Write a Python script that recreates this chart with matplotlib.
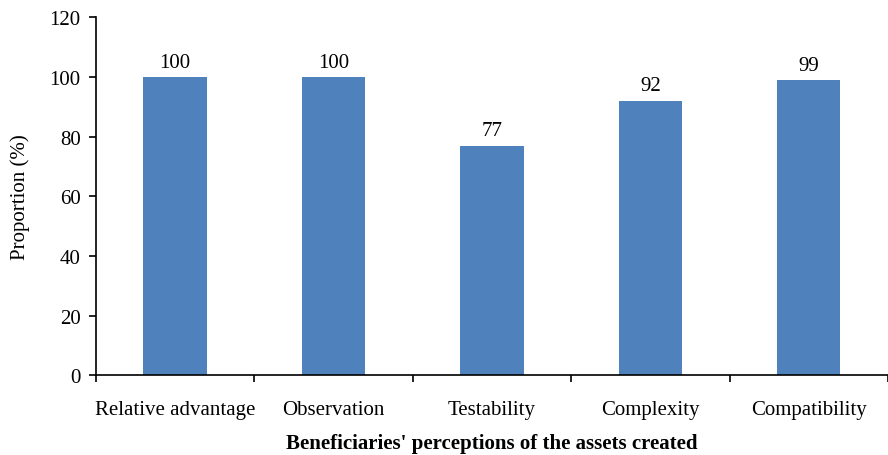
import matplotlib.pyplot as plt
import numpy as np

categories = ['Relative advantage', 'Observation', 'Testability', 'Complexity', 'Compatibility']
values = [100, 100, 77, 92, 99]
yticks = [0, 20, 40, 60, 80, 100, 120]

plt.rcParams['font.family'] = ['Liberation Serif', 'DejaVu Serif']

fig = plt.figure(figsize=(8.88, 4.56), dpi=100)
ax = fig.add_axes([0.108, 0.175, 0.892, 0.785])

x = np.arange(len(categories))
bars = ax.bar(x, values, width=0.4, color='#4f81bd')

for xi, v in zip(x, values):
    ax.text(xi, v + 1.8, str(v), ha='center', va='bottom', fontsize=15)

ax.set_xlim(-0.5, len(categories) - 0.5)
ax.set_ylim(0, 120)
ax.set_yticks(yticks)
ax.tick_params(axis='y', labelsize=15, direction='out', length=5, width=1.2, pad=6)

# category labels centred, ticks at the boundaries
ax.set_xticks(x)
ax.set_xticklabels(categories, fontsize=15)
ax.tick_params(axis='x', which='major', length=0, pad=18)
ax.set_xticks(np.arange(-0.5, len(categories)), minor=True)
ax.tick_params(axis='x', which='minor', direction='out', length=5, width=1.2)

for s in ['top', 'right']:
    ax.spines[s].set_visible(False)
for s in ['left', 'bottom']:
    ax.spines[s].set_linewidth(1.2)

ax.set_ylabel('Proportion (%)', fontsize=15, labelpad=14)
ax.set_xlabel("Beneficiaries' perceptions of the assets created", fontsize=15, fontweight='bold', labelpad=10)

fig.savefig('out.png', dpi=100)
